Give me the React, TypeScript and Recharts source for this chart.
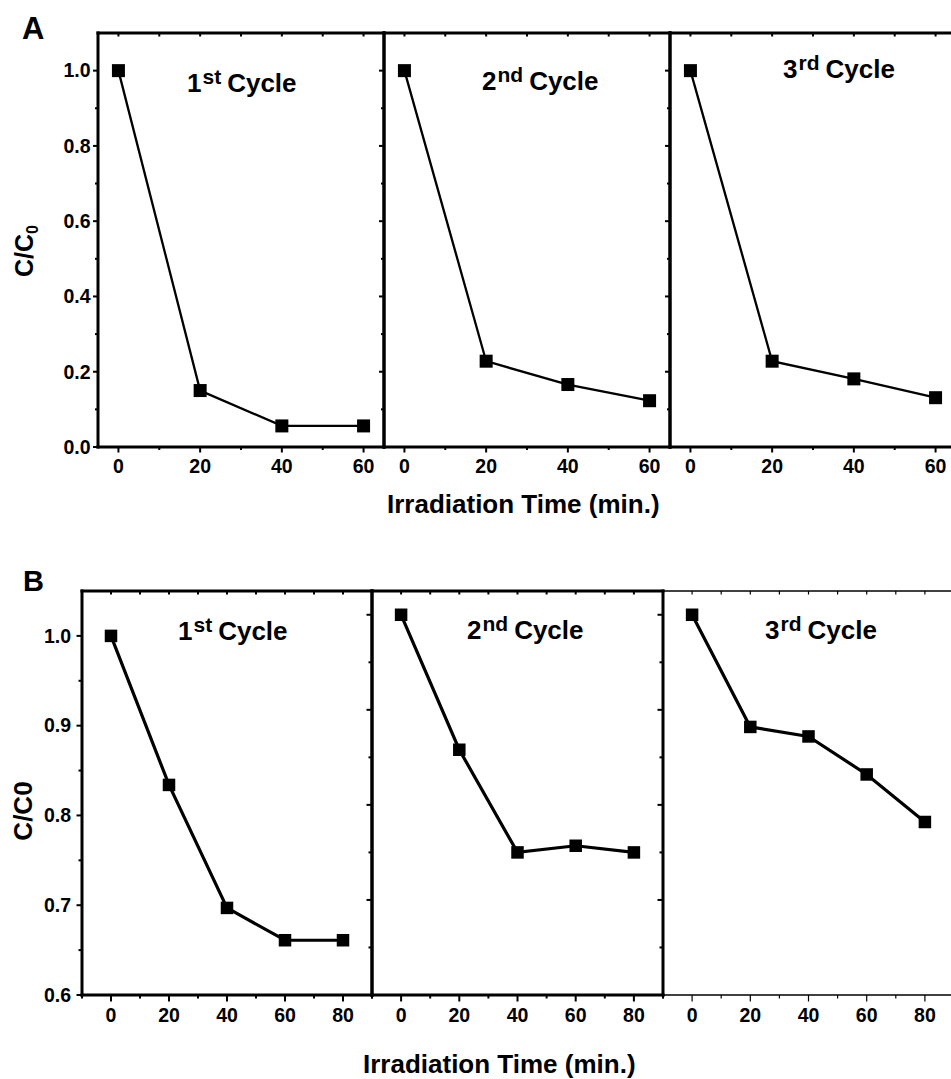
import { LineChart, Line, XAxis, YAxis } from "recharts";

// irradiation time (min)
const timesA = [0, 20, 40, 60];
const timesB = [0, 20, 40, 60, 80];

// panel A, C/C0 per cycle
const cycle1A = [1.0, 0.15, 0.056, 0.056];
const cycle2A = [1.0, 0.228, 0.166, 0.123];
const cycle3A = [1.0, 0.228, 0.181, 0.131];

// panel B, C/C0 per cycle (cycles 2 and 3 sit on their own unlabelled scale)
const cycle1B = [1.0, 0.834, 0.697, 0.661, 0.661];
const cycle2B = [1.0, 0.858, 0.75, 0.757, 0.75];
const cycle3B = [1.0, 0.882, 0.872, 0.832, 0.782];

const xMajorA = [0, 20, 40, 60];
const xMinorA = [10, 30, 50];
const yMajorA = [0, 0.2, 0.4, 0.6, 0.8, 1.0];
const yMinorA = [0.1, 0.3, 0.5, 0.7, 0.9];

const xMajorB = [0, 20, 40, 60, 80];
const xMinorB = [-10, 10, 30, 50, 70, 90];
const yMajorB = [0.6, 0.7, 0.8, 0.9, 1.0];
const yMinorB = [0.65, 0.75, 0.85, 0.95];

const cycleNames = [
  ["1", "st"],
  ["2", "nd"],
  ["3", "rd"],
];

const FONT = '"Liberation Sans", Arial, Helvetica, sans-serif';
const TICK_FS = 19.5;
const YW = 60;
const MT = 10;
const MR = 10;
const XH = 40;

interface TickStyle {
  xMajorLen: number;
  xMinorLen: number;
  yMajorLen: number;
  yMinorLen: number;
  topLen: number;
  xLabelDy: number;
  yLabelDx: number;
}

interface SubProps {
  left: number;
  top: number;
  w: number;
  h: number;
  times: number[];
  values: number[];
  xDomain: [number, number];
  yDomain: [number, number];
  xMajor: number[];
  xMinor: number[];
  yMajor: number[];
  yMinor: number[];
  yLabels: boolean;
  lineW: number;
  marker: number;
  xAxisW: number;
  yAxisW: number;
  xTickW: number;
  yTickW: number;
  ts: TickStyle;
}

const isIn = (list: number[], v: number) => list.some((m) => Math.abs(m - v) < 1e-6);

function Subplot(p: SubProps) {
  const data = p.times.map((t, i) => ({ t, v: p.values[i] }));
  const xAll = [...p.xMajor, ...p.xMinor].sort((a, b) => a - b);
  const yAll = [...p.yMajor, ...p.yMinor].sort((a, b) => a - b);
  const ts = p.ts;

  const bottomTick = (tp: any) => {
    const v = tp.payload.value;
    const maj = isIn(p.xMajor, v);
    return (
      <g>
        <line x1={tp.x} x2={tp.x} y1={tp.y} y2={tp.y + (maj ? ts.xMajorLen : ts.xMinorLen)} stroke="#000" strokeWidth={p.xTickW} />
        {maj && (
          <text x={tp.x} y={tp.y + ts.xLabelDy} textAnchor="middle" fontFamily={FONT} fontWeight="bold" fontSize={TICK_FS} fill="#000">
            {v}
          </text>
        )}
      </g>
    );
  };

  const topTick = (tp: any) => (
    <line x1={tp.x} x2={tp.x} y1={tp.y} y2={tp.y + ts.topLen} stroke="#000" strokeWidth={p.xTickW} />
  );

  const leftTick = (tp: any) => {
    const v = tp.payload.value;
    const maj = isIn(p.yMajor, v);
    return (
      <g>
        <line x1={tp.x - (maj ? ts.yMajorLen : ts.yMinorLen)} x2={tp.x} y1={tp.y} y2={tp.y} stroke="#000" strokeWidth={p.yTickW} />
        {maj && p.yLabels && (
          <text x={tp.x - ts.yLabelDx} y={tp.y + 6.8} textAnchor="end" fontFamily={FONT} fontWeight="bold" fontSize={TICK_FS} fill="#000">
            {v.toFixed(1)}
          </text>
        )}
      </g>
    );
  };

  const square = (dp: any) => {
    const { cx, cy, index } = dp;
    if (cx == null || cy == null) return <g key={`e${index}`} />;
    return (
      <rect key={`sq${index}`} x={cx - p.marker / 2} y={cy - p.marker / 2} width={p.marker} height={p.marker} fill="#000" />
    );
  };

  const xLine = { stroke: "#000", strokeWidth: p.xAxisW, strokeLinecap: "square" as const };
  const yLine = { stroke: "#000", strokeWidth: p.yAxisW, strokeLinecap: "square" as const };

  return (
    <div style={{ position: "absolute", left: p.left - YW, top: p.top - MT - 1 }}>
      <LineChart
        width={YW + p.w + 1 + MR}
        height={MT + 1 + p.h + XH}
        data={data}
        margin={{ top: MT, right: MR, left: 0, bottom: 0 }}
      >
        <XAxis
          dataKey="t"
          type="number"
          domain={p.xDomain}
          ticks={xAll}
          interval={0}
          allowDataOverflow
          height={XH}
          tickSize={0}
          tickMargin={0}
          tickLine={false}
          axisLine={xLine}
          tick={bottomTick}
        />
        <XAxis
          xAxisId="top"
          orientation="top"
          dataKey="t"
          type="number"
          domain={p.xDomain}
          ticks={xAll}
          interval={0}
          allowDataOverflow
          height={1}
          tickSize={0}
          tickMargin={0}
          tickLine={false}
          axisLine={xLine}
          tick={topTick}
        />
        <YAxis
          type="number"
          domain={p.yDomain}
          ticks={yAll}
          interval={0}
          allowDataOverflow
          width={YW}
          tickSize={0}
          tickMargin={0}
          tickLine={false}
          axisLine={yLine}
          tick={leftTick}
        />
        <YAxis
          yAxisId="r"
          orientation="right"
          type="number"
          domain={p.yDomain}
          allowDataOverflow
          width={1}
          tick={false}
          tickLine={false}
          axisLine={{ stroke: "#000", strokeWidth: 3, strokeLinecap: "square" }}
        />
        <Line
          type="linear"
          dataKey="v"
          stroke="#000"
          strokeWidth={p.lineW}
          dot={square}
          activeDot={false}
          isAnimationActive={false}
        />
      </LineChart>
    </div>
  );
}

const tsA: TickStyle = { xMajorLen: 5.5, xMinorLen: 3, yMajorLen: 5, yMinorLen: 3, topLen: 3.5, xLabelDy: 25.5, yLabelDx: 7.5 };
const tsB: TickStyle = { xMajorLen: 6.5, xMinorLen: 3.5, yMajorLen: 5.5, yMinorLen: 3.5, topLen: 3.5, xLabelDy: 27, yLabelDx: 11 };

function CycleTitle({ x, y, n }: { x: number; y: number; n: number }) {
  const [num, sup] = cycleNames[n];
  return (
    <text x={x} y={y} fontFamily={FONT} fontWeight="bold" fontSize={26} fill="#000">
      {num}
      <tspan fontSize={21} dy={-8} dx={1}>
        {sup}
      </tspan>
      <tspan dy={8} dx={6}>
        {"Cycle"}
      </tspan>
    </text>
  );
}

export default function App() {
  const leftsA = [98, 384, 670];
  const valsA = [cycle1A, cycle2A, cycle3A];
  const leftsB = [82, 372, 663];
  const valsB = [cycle1B, cycle2B, cycle3B];

  return (
    <div
      style={{
        position: "absolute",
        left: 0,
        top: 0,
        width: 951,
        height: 1079,
        overflow: "hidden",
        background: "#fff",
      }}
    >
      {leftsA.map((l, i) => (
        <Subplot
          key={`a${i}`}
          left={l}
          top={33}
          w={286}
          h={414}
          times={timesA}
          values={valsA[i]}
          xDomain={[-5, 65]}
          yDomain={[0, 1.1]}
          xMajor={xMajorA}
          xMinor={xMinorA}
          yMajor={yMajorA}
          yMinor={yMinorA}
          yLabels={i === 0}
          lineW={2.3}
          marker={13}
          xAxisW={3}
          yAxisW={3}
          xTickW={2}
          yTickW={2}
          ts={tsA}
        />
      ))}
      {leftsB.map((l, i) => (
        <Subplot
          key={`b${i}`}
          left={l}
          top={591}
          w={i === 0 ? 290 : 291}
          h={404}
          times={timesB}
          values={valsB[i]}
          xDomain={[-10, 90]}
          yDomain={i === 0 ? [0.6, 1.05] : [0.6, 1.025]}
          xMajor={xMajorB}
          xMinor={xMinorB}
          yMajor={yMajorB}
          yMinor={yMinorB}
          yLabels={i === 0}
          lineW={3.2}
          marker={12.5}
          xAxisW={i === 2 ? 1.5 : 3}
          yAxisW={i === 2 ? 1.5 : 3}
          xTickW={i === 2 ? 1.2 : 2}
          yTickW={2}
          ts={tsB}
        />
      ))}
      <svg
        width={951}
        height={1079}
        style={{ position: "absolute", left: 0, top: 0, pointerEvents: "none" }}
      >
        <text x={22} y={39} fontFamily={FONT} fontWeight="bold" fontSize={31} fill="#000">
          A
        </text>
        <text x={23} y={591} fontFamily={FONT} fontWeight="bold" fontSize={29} fill="#000">
          B
        </text>

        <CycleTitle x={187} y={92} n={0} />
        <CycleTitle x={482} y={90} n={1} />
        <CycleTitle x={783} y={78} n={2} />
        <CycleTitle x={178} y={640} n={0} />
        <CycleTitle x={467} y={639} n={1} />
        <CycleTitle x={765} y={639} n={2} />

        <text
          x={33}
          y={251}
          transform="rotate(-90 33 251)"
          textAnchor="middle"
          fontFamily={FONT}
          fontWeight="bold"
          fontSize={25}
          fill="#000"
        >
          C/C
          <tspan fontSize={16} dy={5}>
            0
          </tspan>
        </text>
        <text
          x={32}
          y={811}
          transform="rotate(-90 32 811)"
          textAnchor="middle"
          fontFamily={FONT}
          fontWeight="bold"
          fontSize={26}
          fill="#000"
        >
          C/C0
        </text>

        <text x={387} y={513} fontFamily={FONT} fontWeight="bold" fontSize={26} fill="#000">
          Irradiation Time (min.)
        </text>
        <text x={363} y={1073} fontFamily={FONT} fontWeight="bold" fontSize={26} fill="#000">
          Irradiation Time (min.)
        </text>
      </svg>
    </div>
  );
}
